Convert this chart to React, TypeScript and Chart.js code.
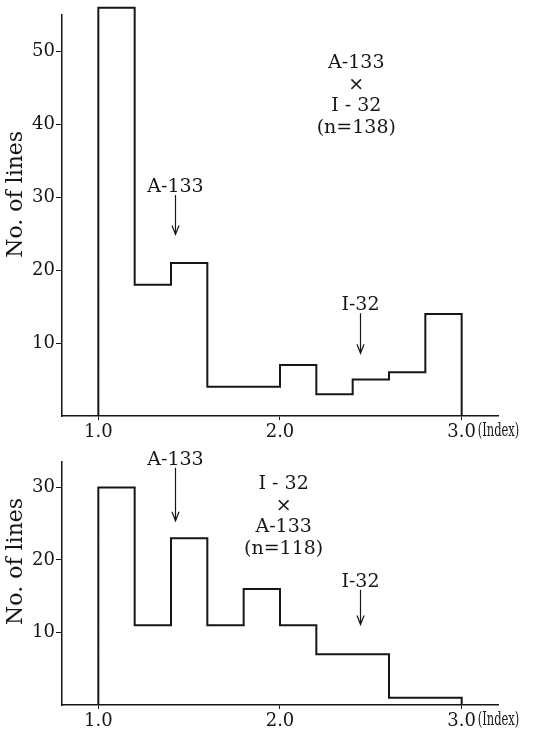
import React, { useEffect, useRef } from "react";
import { Chart, registerables } from "chart.js";

Chart.register(...registerables);

// ---- data ----
const binEdges = [1.0, 1.2, 1.4, 1.6, 1.8, 2.0, 2.2, 2.4, 2.6, 2.8, 3.0];
const topCounts = [56, 18, 21, 4, 4, 7, 3, 5, 6, 14]; // A-133 x I-32 (n=138)
const bottomCounts = [30, 11, 23, 11, 16, 11, 7, 7, 1, 1]; // I-32 x A-133 (n=118)
const xTickValues = [1.0, 2.0, 3.0];
const topYTicks = [10, 20, 30, 40, 50];
const bottomYTicks = [10, 20, 30];
const topCrossLines = ["A-133", "×", "I - 32", "(n=138)"];
const bottomCrossLines = ["I - 32", "×", "A-133", "(n=118)"];
const yTitle = "No. of lines";
const xUnitLabel = "(Index)";

type Arrow = { label: string; x: number; top: number; tip: number };
const topArrows: Arrow[] = [
  { label: "A-133", x: 1.42, top: 30.3, tip: 24.9 },
  { label: "I-32", x: 2.44, top: 14.1, tip: 8.6 },
];
const bottomArrows: Arrow[] = [
  { label: "A-133", x: 1.42, top: 32.7, tip: 25.4 },
  { label: "I-32", x: 2.44, top: 15.9, tip: 11.1 },
];

const FONT = "'DejaVu Serif', serif";
const INK = "#161616";

type PanelProps = {
  counts: number[];
  yMax: number;
  yTicks: number[];
  padTop: number;
  height: number;
  xAxisHeight: number;
  cross: string[];
  crossAt: { x: number; y: number };
  arrows: Arrow[];
  titleAt: number;
};

function Panel(p: PanelProps) {
  const ref = useRef<HTMLCanvasElement>(null);
  useEffect(() => {
    if (!ref.current) return;
    const points = [
      { x: binEdges[0], y: 0 },
      ...p.counts.map((c, i) => ({ x: binEdges[i], y: c })),
      { x: binEdges[binEdges.length - 1], y: 0 },
    ];
    const overlay = {
      id: "overlay",
      afterDatasetsDraw(chart: any) {
        const ctx = chart.ctx as CanvasRenderingContext2D;
        const xs = chart.scales.x;
        const ys = chart.scales.y;
        ctx.save();
        ctx.fillStyle = INK;
        ctx.strokeStyle = INK;
        ctx.font = `19px ${FONT}`;
        ctx.textAlign = "center";
        // arrows with labels
        p.arrows.forEach((a) => {
          const px = Math.round(xs.getPixelForValue(a.x)) + 0.5;
          const y0 = ys.getPixelForValue(a.top);
          const y1 = ys.getPixelForValue(a.tip);
          ctx.textBaseline = "alphabetic";
          ctx.fillText(a.label, px, y0 - 3);
          ctx.lineWidth = 1.2;
          ctx.beginPath();
          ctx.moveTo(px, y0);
          ctx.lineTo(px, y1);
          ctx.moveTo(px - 3.5, y1 - 9);
          ctx.lineTo(px, y1);
          ctx.lineTo(px + 3.5, y1 - 9);
          ctx.stroke();
        });
        // cross label block
        const cx = xs.getPixelForValue(p.crossAt.x);
        const cy = ys.getPixelForValue(p.crossAt.y);
        ctx.textBaseline = "middle";
        p.cross.forEach((line, i) => ctx.fillText(line, cx, cy + i * 21.5));
        // unit label after last x tick
        ctx.save();
        ctx.translate(
          xs.getPixelForValue(xTickValues[xTickValues.length - 1]) + 16,
          chart.chartArea.bottom + 6
        );
        ctx.scale(0.64, 1);
        ctx.font = `18px ${FONT}`;
        ctx.textAlign = "left";
        ctx.textBaseline = "top";
        ctx.fillText(xUnitLabel, 0, 0);
        ctx.restore();
        // y axis title
        ctx.save();
        ctx.translate(16, ys.getPixelForValue(p.titleAt));
        ctx.rotate(-Math.PI / 2);
        ctx.font = `22px ${FONT}`;
        ctx.textAlign = "center";
        ctx.textBaseline = "middle";
        ctx.fillText(yTitle, 0, 0);
        ctx.restore();
        ctx.restore();
      },
    };
    const chart = new Chart(ref.current, {
      type: "line",
      data: {
        datasets: [
          {
            data: points,
            borderColor: INK,
            borderWidth: 2,
            pointRadius: 0,
            fill: false,
            stepped: "before",
            clip: false as any,
          } as any,
        ],
      },
      options: {
        animation: false,
        responsive: false,
        events: [],
        layout: { padding: { top: p.padTop, right: 49, left: 0, bottom: 0 } },
        plugins: { legend: { display: false }, tooltip: { enabled: false }, title: { display: false } },
        scales: {
          x: {
            type: "linear",
            min: 0.8,
            max: 3.2,
            afterBuildTicks: (s: any) => {
              s.ticks = xTickValues.map((v) => ({ value: v }));
            },
            afterFit: (s: any) => {
              s.height = p.xAxisHeight;
            },
            ticks: {
              callback: (v: any) => Number(v).toFixed(1),
              font: { family: FONT, size: 18 },
              color: INK,
              padding: 2,
              maxRotation: 0,
              autoSkip: false,
            },
            grid: { drawOnChartArea: false, drawTicks: true, tickLength: 4, color: INK },
            border: { display: true, color: INK, width: 1.5 },
          },
          y: {
            type: "linear",
            min: 0,
            max: p.yMax,
            afterBuildTicks: (s: any) => {
              s.ticks = p.yTicks.map((v) => ({ value: v }));
            },
            afterFit: (s: any) => {
              s.width = 62;
            },
            ticks: {
              font: { family: FONT, size: 18 },
              color: INK,
              padding: 1,
            },
            grid: { drawOnChartArea: false, drawTicks: true, tickLength: 6, color: INK },
            border: { display: true, color: INK, width: 1.5 },
          },
        },
      },
      plugins: [overlay],
    } as any);
    return () => chart.destroy();
  }, []);
  return (
    <canvas
      ref={ref}
      width={547}
      height={p.height}
      style={{ display: "block", width: 547, height: p.height }}
    />
  );
}

export default function App() {
  return (
    <div
      style={{
        position: "absolute",
        left: 0,
        top: 0,
        width: 547,
        height: 735,
        background: "#fff",
      }}
    >
      <Panel
        counts={topCounts}
        yMax={55}
        yTicks={topYTicks}
        padTop={15}
        height={440}
        xAxisHeight={24}
        cross={topCrossLines}
        crossAt={{ x: 2.42, y: 48.4 }}
        arrows={topArrows}
        titleAt={30.4}
      />
      <Panel
        counts={bottomCounts}
        yMax={33.5}
        yTicks={bottomYTicks}
        padTop={22}
        height={295}
        xAxisHeight={30}
        cross={bottomCrossLines}
        crossAt={{ x: 2.02, y: 30.4 }}
        arrows={bottomArrows}
        titleAt={19.8}
      />
    </div>
  );
}
